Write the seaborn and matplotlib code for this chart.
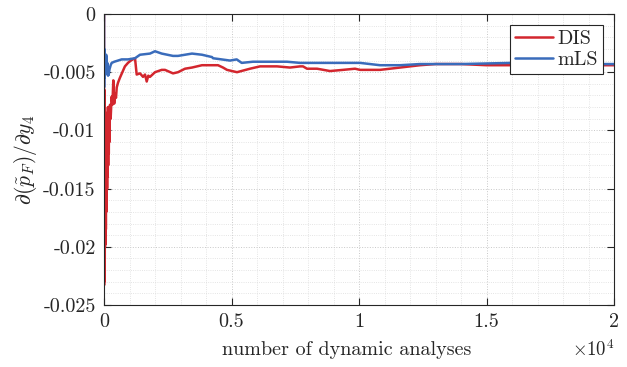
import matplotlib
matplotlib.use("Agg")
import matplotlib.pyplot as plt
from matplotlib.ticker import MultipleLocator, FuncFormatter
import seaborn as sns
import pandas as pd

# ---- data ----
dis_x = [1, 3, 6, 9, 12, 15, 18, 22, 26, 30, 34, 38, 43, 48, 54, 60, 66, 73, 80, 88, 96, 104,
         113, 122, 132, 142, 153, 164, 176, 188, 200, 215, 235, 260, 300,
         330, 365, 400, 430, 470, 500, 550, 620, 700, 820, 940, 1050, 1216, 1282, 1412, 1530, 1608,
         1675, 1737, 1804, 2000, 2263, 2392, 2706, 2902, 3177, 3451, 3843, 4157, 4471, 4667, 4824,
         5216, 5726, 6118, 6785, 7295, 7687, 7804, 7961, 8354, 8863, 9373, 9844, 10040, 10824,
         11609, 12393, 13000, 14000, 15000, 16000, 17000, 18000, 19000, 20000]
dis_y = [0, -0.0233, -0.0065, -0.0230, -0.0080, -0.0225, -0.0070, -0.0215, -0.0090, -0.0210,
         -0.0085, -0.0200, -0.0095, -0.0198, -0.0090, -0.0190, -0.0100, -0.0185, -0.0095, -0.0170,
         -0.0090, -0.0160, -0.0085, -0.0150, -0.0090, -0.0140, -0.0080, -0.0130, -0.0085, -0.0120,
         -0.0080, -0.0110, -0.0078, -0.0090, -0.0071,
         -0.0078, -0.0057, -0.0077, -0.0068, -0.0072, -0.0063, -0.0059, -0.0055, -0.0051, -0.0045,
         -0.0042, -0.0040, -0.0038, -0.0052, -0.0051, -0.0054, -0.0052, -0.0058, -0.0053, -0.0054,
         -0.0050, -0.0048, -0.0048, -0.0051, -0.0050, -0.0047, -0.0046, -0.0044, -0.0044, -0.0044,
         -0.0046, -0.0048, -0.0050, -0.0047, -0.0045, -0.0045, -0.0046, -0.0045, -0.0045, -0.0047,
         -0.0047, -0.0049, -0.0048, -0.0047, -0.0048, -0.0048, -0.0046, -0.0044, -0.0043, -0.0043,
         -0.0044, -0.0044, -0.0043, -0.0044, -0.0044, -0.0044]
mls_x = [1, 4, 8, 12, 16, 20, 25, 30, 36, 42, 50, 58, 66, 75, 85, 95, 106, 118, 129, 140, 150,
         160, 169, 185, 200, 220, 235, 260, 302,
         404, 549, 694, 941, 1216,
         1412, 1804, 2000, 2263, 2706, 2902, 3451, 3843, 4236, 4275, 4942, 5204, 5400, 5843, 6628,
         7177, 7687, 8079, 8981, 9530, 10040, 10824, 11609, 12393, 14000, 16000, 18000, 20000]
mls_y = [0, -0.0063, -0.0030, -0.0055, -0.0033, -0.0050, -0.0032, -0.0048, -0.0035, -0.0052,
         -0.0036, -0.0050, -0.0038, -0.0047, -0.0035, -0.0045, -0.0037, -0.0050, -0.0042, -0.0052,
         -0.0045, -0.0053, -0.0048, -0.0052, -0.0050, -0.0047, -0.0046, -0.0044, -0.0042,
         -0.0041, -0.0040, -0.0039, -0.0039, -0.0038,
         -0.0035, -0.0034, -0.0032, -0.0034, -0.0036, -0.0036, -0.0034, -0.0035, -0.0037, -0.0038,
         -0.0040, -0.0039, -0.0042, -0.0041, -0.0041, -0.0041, -0.0042, -0.0042, -0.0042, -0.0042,
         -0.0042, -0.0044, -0.0044, -0.0043, -0.0043, -0.0042, -0.0043, -0.0043]
series_names = ["DIS", "mLS"]
x_ticks = [0, 5000, 10000, 15000, 20000]
y_ticks = [0, -0.005, -0.01, -0.015, -0.02, -0.025]

df = pd.concat([
    pd.DataFrame({"n": dis_x, "val": dis_y, "method": series_names[0]}),
    pd.DataFrame({"n": mls_x, "val": mls_y, "method": series_names[1]}),
], ignore_index=True)

sns.set_style("ticks")
plt.rcParams["font.family"] = ["cmr10", "DejaVu Serif"]
plt.rcParams["mathtext.fontset"] = "cm"
plt.rcParams["axes.unicode_minus"] = False
plt.rcParams["axes.formatter.use_mathtext"] = True

FS = 14.5
fig = plt.figure(figsize=(6.27, 3.67), dpi=100)
ax = fig.add_axes([104 / 627, 1 - 305 / 367, 510 / 627, 291 / 367])

sns.lineplot(data=df, x="n", y="val", hue="method", estimator=None, sort=False,
             palette={"DIS": "#D3262E", "mLS": "#3A6CBB"}, linewidth=1.8, ax=ax)

ax.set_xlim(0, 20000)
ax.set_ylim(-0.025, 0)
ax.set_xticks(x_ticks)
ax.set_yticks(y_ticks)
ax.xaxis.set_minor_locator(MultipleLocator(1000))
ax.yaxis.set_minor_locator(MultipleLocator(0.001))
ax.xaxis.set_major_formatter(FuncFormatter(lambda v, p: f"{v/1e4:g}"))
ax.yaxis.set_major_formatter(FuncFormatter(lambda v, p: "0" if abs(v) < 1e-12 else f"{v:g}"))

ax.grid(True, which="major", linestyle=":", color="#c8c8c8", linewidth=0.7)
ax.grid(True, which="minor", linestyle=":", color="#dcdcdc", linewidth=0.6)
ax.set_axisbelow(True)

for s in ax.spines.values():
    s.set_visible(True)
    s.set_color("#262626")
    s.set_linewidth(0.8)
ax.tick_params(which="major", direction="in", length=5, width=0.8, top=True, right=True,
               labelsize=FS, colors="#262626", pad=6)
ax.tick_params(which="minor", length=0, top=True, right=True)
for lab in ax.get_xticklabels() + ax.get_yticklabels():
    lab.set_color("#262626")

ax.set_xlabel("number of dynamic analyses", fontsize=FS, color="#262626")
ax.xaxis.set_label_coords(0.475, -0.125)
ax.set_ylabel(r"$\partial(\tilde{p}_F)/\partial y_4$", fontsize=FS + 1, color="#262626")
ax.yaxis.set_label_coords(-0.127, 0.5)

ax.text(1.0, -0.19, r"$\times 10^{4}$", transform=ax.transAxes, ha="right", va="bottom",
        fontsize=FS - 1, color="#262626")

handles, labels = ax.get_legend_handles_labels()
leg = ax.legend(handles, labels, loc="upper right", fontsize=FS, frameon=True, fancybox=False,
                framealpha=1, edgecolor="#262626", handlelength=1.9, handletextpad=0.2,
                labelspacing=0.15, borderpad=0.25, borderaxespad=0.55)
leg.get_frame().set_linewidth(0.8)

fig.savefig("out.png", dpi=100)
